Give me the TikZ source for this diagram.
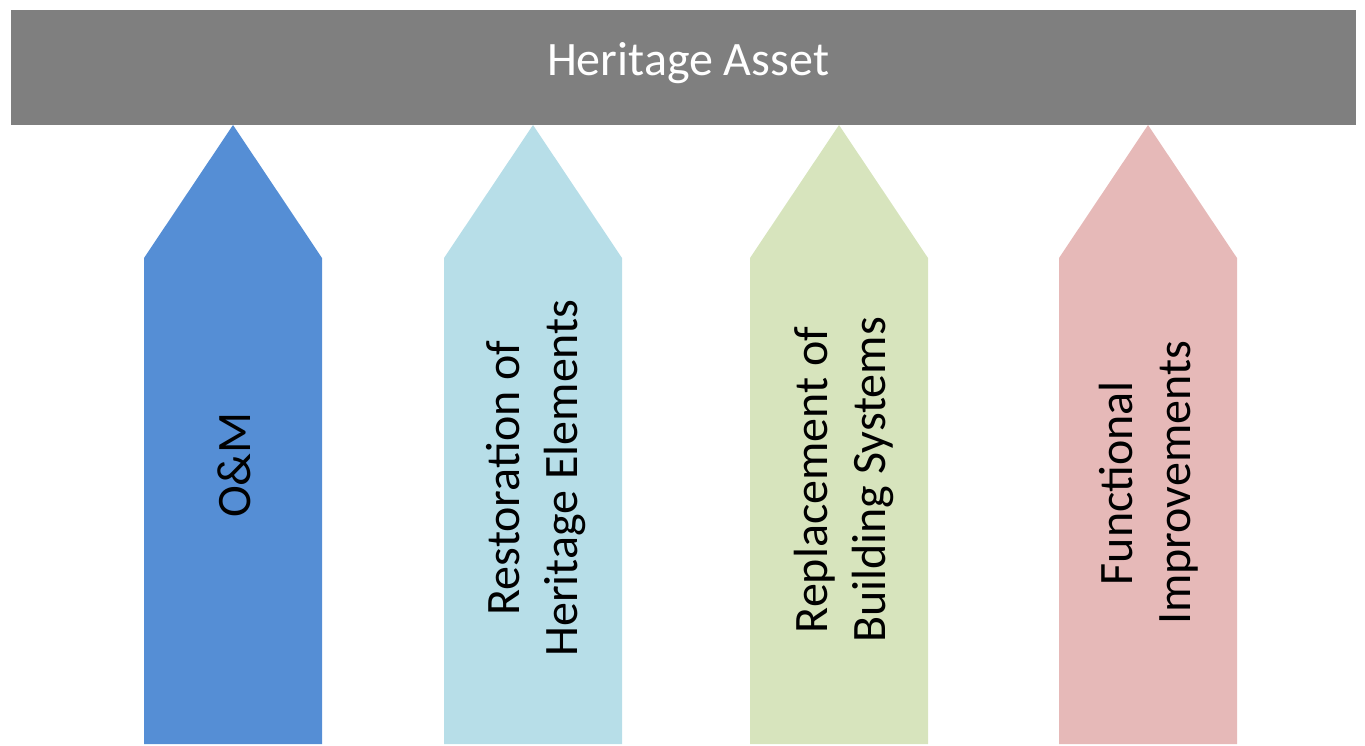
\documentclass[tikz,border=0pt]{standalone}
\usepackage{fontspec}
\setmainfont{Carlito}
\usepackage{tikz}
\usetikzlibrary{calc,positioning}
\definecolor{assetgray}{RGB}{127,127,127}
\definecolor{ombleu}{RGB}{85,142,213}
\definecolor{restbleu}{RGB}{183,222,232}
\definecolor{replvert}{RGB}{215,228,189}
\definecolor{funcrose}{RGB}{230,185,184}
\tikzset{
    asset/.style={
    rectangle,fill=assetgray,text=white,inner sep=0pt,
    font=\fontsize{36}{43.5}\selectfont
    },
    pillar/.style={
    rotate=90,text=black,align=center,inner sep=0pt,
    font=\fontsize{36}{43.5}\selectfont
    }
}

\begin{document}
\begin{tikzpicture}[x=0.75pt,y=-0.75pt]
    \useasboundingbox (0,0) rectangle (1365,746);

    % the four upward arrows
    \foreach \cx/\col in {233/ombleu,533/restbleu,839/replvert,1148/funcrose}
      \fill[\col] (\cx-89,744) -- (\cx-89,258) -- (\cx,125) -- (\cx+89,258) -- (\cx+89,744) -- cycle;

    \fill[assetgray] (11,10) rectangle (1356,125);
    \node[asset,anchor=base] (herit) at (688,75) {Heritage Asset};

    \node[pillar] (om) at (234,465) {O\&M};
    \node[pillar] (rest) at (536,478) {Restoration of\\ Heritage Elements};
    \node[pillar] (repl) at (844,480) {Replacement of\\ Building Systems};
    \node[pillar] (func) at (1149,483) {Functional\\ Improvements};
  \end{tikzpicture}
\end{document}
